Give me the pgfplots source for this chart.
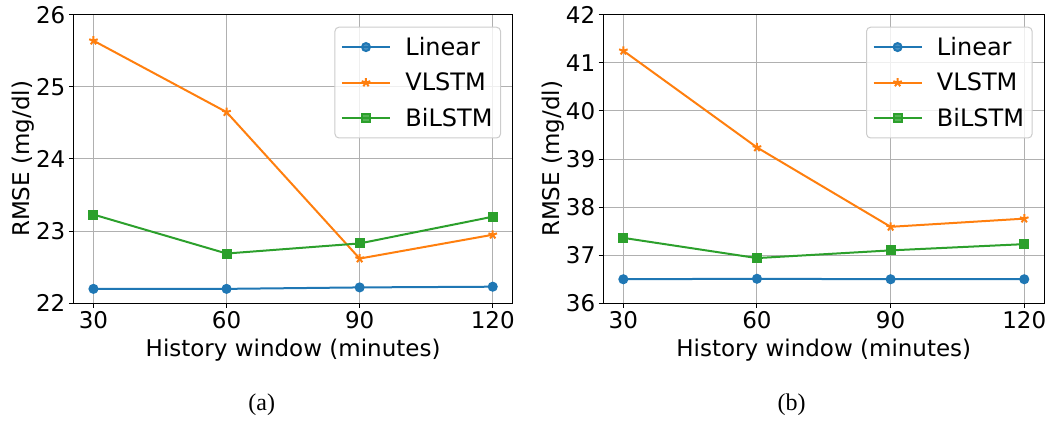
\documentclass[border=0pt]{standalone}
\usepackage{fontspec}
\setmainfont{DejaVu Sans}
\newfontfamily\capfont{Liberation Serif}
\usepackage{pgfplots}
\pgfplotsset{compat=1.18}
\definecolor{c1}{HTML}{1F77B4}
\definecolor{c2}{HTML}{FF7F0E}
\definecolor{c3}{HTML}{2CA02C}
\definecolor{gridc}{HTML}{B0B0B0}
\definecolor{legc}{HTML}{CCCCCC}
\pgfplotsset{mystyle/.style={
  scale only axis,
  xmin=25.5, xmax=124.5,
  xtick={30,60,90,120},
  grid=major,
  grid style={color=gridc, line width=1pt},
  axis line style={line width=1pt},
  tick align=outside, tick pos=left,
  major tick length=4.6pt,
  every tick/.style={black, line width=1pt},
  tick label style={font=\fontsize{23}{27}\selectfont},
  /pgf/number format/assume math mode=true,
  xlabel={History window (minutes)},
  ylabel={RMSE (mg/dl)},
  every axis x label/.style={at={([yshift=-53.4pt]axis description cs:0.5,0)}, anchor=base, font=\fontsize{23}{27}\selectfont},
  every axis y label/.style={at={([xshift=-44.2pt]axis description cs:0,0.5)}, rotate=90, anchor=base, font=\fontsize{23}{27}\selectfont},
  legend cell align=left,
  legend image code/.code={\draw[mark repeat=2,mark phase=2] plot coordinates {(0pt,0pt) (24pt,0pt) (48pt,0pt)};},
  legend style={at={(1,1)}, anchor=north east, xshift=-11.7pt, yshift=-12pt,
    draw=legc, line width=1pt, rounded corners=4pt, fill=white, fill opacity=0.8, text opacity=1,
    font=\fontsize{24}{28}\selectfont, inner xsep=6pt, inner ysep=8pt,
    row sep=12pt,
    /tikz/every odd column/.append style={column sep=12.4pt}},
  every axis plot/.append style={line width=2pt},
}}
\begin{document}
\begin{tikzpicture}
\path[use as bounding box] (0,0) rectangle (1053pt,423pt);
\begin{axis}[mystyle, at={(73.5pt,119.7pt)}, anchor=south west, width=439.2pt, height=288.6pt,
  ymin=22, ymax=26, ytick={22,23,24,25,26}]
\addplot[c1, mark=*, mark size=4pt, mark options={solid}] coordinates {(30,22.20) (60,22.20) (90,22.22) (120,22.23)};
\addlegendentry{Linear}
\addplot[c2, mark=star, mark size=4.5pt, mark options={solid, fill=c2}] coordinates {(30,25.64) (60,24.65) (90,22.62) (120,22.95)};
\addlegendentry{VLSTM}
\addplot[c3, mark=square*, mark size=4pt, mark options={solid}] coordinates {(30,23.23) (60,22.69) (90,22.83) (120,23.20)};
\addlegendentry{BiLSTM}
\end{axis}
\begin{axis}[mystyle, at={(603.3pt,119.7pt)}, anchor=south west, width=441pt, height=288.6pt,
  ymin=36, ymax=42, ytick={36,37,38,39,40,41,42}]
\addplot[c1, mark=*, mark size=4pt, mark options={solid}] coordinates {(30,36.50) (60,36.51) (90,36.50) (120,36.50)};
\addlegendentry{Linear}
\addplot[c2, mark=star, mark size=4.5pt, mark options={solid, fill=c2}] coordinates {(30,41.25) (60,39.24) (90,37.59) (120,37.76)};
\addlegendentry{VLSTM}
\addplot[c3, mark=square*, mark size=4pt, mark options={solid}] coordinates {(30,37.36) (60,36.94) (90,37.10) (120,37.23)};
\addlegendentry{BiLSTM}
\end{axis}
\node at (261.7pt,18pt) {\capfont\fontsize{24}{28}\selectfont (a)};
\node at (791.7pt,18pt) {\capfont\fontsize{24}{28}\selectfont (b)};
\end{tikzpicture}
\end{document}
